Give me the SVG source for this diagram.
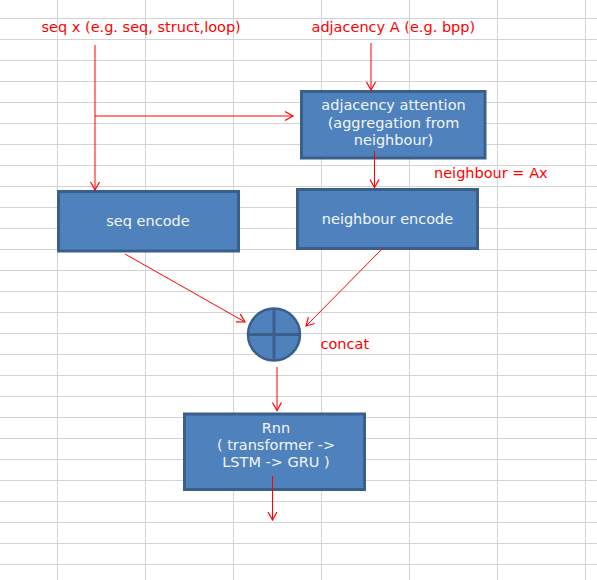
<svg xmlns="http://www.w3.org/2000/svg" width="597" height="580" viewBox="0 0 597 580">
<style>
.grid line{stroke:#d4d4d4;stroke-width:1}
.box{fill:#4f81bd;stroke:#3a5f8b;stroke-width:3}
.bt{font-family:"DejaVu Sans",sans-serif;font-size:14.5px;fill:#f2f6fc;text-anchor:middle}
.rt{font-family:"DejaVu Sans",sans-serif;font-size:14.5px;fill:#ff0000}
.conn line{stroke:#ff0000;stroke-width:1;fill:none;marker-end:url(#ah)}
</style>
<defs>
<marker id="ah" markerUnits="userSpaceOnUse" markerWidth="12" markerHeight="12" viewBox="-10 -6 12 12" refX="0" refY="0" orient="auto">
<path d="M-8,-4.5 L0,0 L-8,4.5" fill="none" stroke="#ff0000" stroke-width="1.2"/>
</marker>
</defs>
<rect width="597" height="580" fill="#ffffff"/>
<g class="grid">
<line x1="57.5" y1="0" x2="57.5" y2="580"/>
<line x1="145.5" y1="0" x2="145.5" y2="580"/>
<line x1="233.5" y1="0" x2="233.5" y2="580"/>
<line x1="321.5" y1="0" x2="321.5" y2="580"/>
<line x1="409.5" y1="0" x2="409.5" y2="580"/>
<line x1="497.5" y1="0" x2="497.5" y2="580"/>
<line x1="585.5" y1="0" x2="585.5" y2="580"/>
<line x1="0" y1="18.5" x2="597" y2="18.5"/>
<line x1="0" y1="39.5" x2="597" y2="39.5"/>
<line x1="0" y1="60.5" x2="597" y2="60.5"/>
<line x1="0" y1="81.5" x2="597" y2="81.5"/>
<line x1="0" y1="102.5" x2="597" y2="102.5"/>
<line x1="0" y1="123.5" x2="597" y2="123.5"/>
<line x1="0" y1="144.5" x2="597" y2="144.5"/>
<line x1="0" y1="165.5" x2="597" y2="165.5"/>
<line x1="0" y1="186.5" x2="597" y2="186.5"/>
<line x1="0" y1="207.5" x2="597" y2="207.5"/>
<line x1="0" y1="228.5" x2="597" y2="228.5"/>
<line x1="0" y1="249.5" x2="597" y2="249.5"/>
<line x1="0" y1="270.5" x2="597" y2="270.5"/>
<line x1="0" y1="291.5" x2="597" y2="291.5"/>
<line x1="0" y1="312.5" x2="597" y2="312.5"/>
<line x1="0" y1="333.5" x2="597" y2="333.5"/>
<line x1="0" y1="354.5" x2="597" y2="354.5"/>
<line x1="0" y1="375.5" x2="597" y2="375.5"/>
<line x1="0" y1="396.5" x2="597" y2="396.5"/>
<line x1="0" y1="417.5" x2="597" y2="417.5"/>
<line x1="0" y1="438.5" x2="597" y2="438.5"/>
<line x1="0" y1="459.5" x2="597" y2="459.5"/>
<line x1="0" y1="480.5" x2="597" y2="480.5"/>
<line x1="0" y1="501.5" x2="597" y2="501.5"/>
<line x1="0" y1="522.5" x2="597" y2="522.5"/>
<line x1="0" y1="543.5" x2="597" y2="543.5"/>
<line x1="0" y1="564.5" x2="597" y2="564.5"/>
</g>
<g id="label-seqx"><text class="rt" x="41.5" y="31.5">seq x (e.g. seq, struct,loop)</text></g>
<g id="label-adjA"><text class="rt" x="311.5" y="32">adjacency A (e.g. bpp)</text></g>
<g id="label-neighbour"><text class="rt" x="434" y="178">neighbour = Ax</text></g>
<g id="label-concat"><text class="rt" x="320.5" y="349">concat</text></g>
<g id="node-adj-attention">
<rect class="box" x="301.5" y="91.5" width="183.5" height="66.5"/>
<text class="bt" x="393.5" y="110">adjacency attention</text>
<text class="bt" x="393.5" y="127.5">(aggregation from</text>
<text class="bt" x="393.5" y="144.5">neighbour)</text>
</g>
<g id="node-seq-encode">
<rect class="box" x="58.5" y="191.5" width="180" height="59.5"/>
<text class="bt" x="148" y="225.5">seq encode</text>
</g>
<g id="node-neighbour-encode">
<rect class="box" x="297.5" y="189.5" width="180" height="59"/>
<text class="bt" x="387.5" y="224">neighbour encode</text>
</g>
<g id="node-concat">
<circle cx="274" cy="334.5" r="26" fill="#4f81bd" stroke="#3a5f8b" stroke-width="2.5"/>
<line x1="274" y1="308.5" x2="274" y2="360.5" stroke="#3a5f8b" stroke-width="3"/>
<line x1="248" y1="334.5" x2="300" y2="334.5" stroke="#3a5f8b" stroke-width="3"/>
</g>
<g id="node-rnn">
<rect class="box" x="184.5" y="414" width="180" height="75.5"/>
<text class="bt" x="276" y="432.5">Rnn</text>
<text class="bt" x="276" y="449.5">( transformer -&gt;</text>
<text class="bt" x="276" y="466.5">LSTM -&gt; GRU )</text>
</g>
<g class="conn">
<line x1="95" y1="45" x2="95" y2="190"/>
<line x1="95" y1="116" x2="293" y2="116"/>
<line x1="371" y1="43" x2="371" y2="90"/>
<line x1="374.5" y1="151" x2="374.5" y2="187.5"/>
<line x1="125" y1="254" x2="245" y2="322"/>
<line x1="383" y1="248" x2="306" y2="326"/>
<line x1="277" y1="367" x2="277" y2="410.5"/>
<line x1="272.5" y1="476" x2="272.5" y2="520"/>
</g>
</svg>
